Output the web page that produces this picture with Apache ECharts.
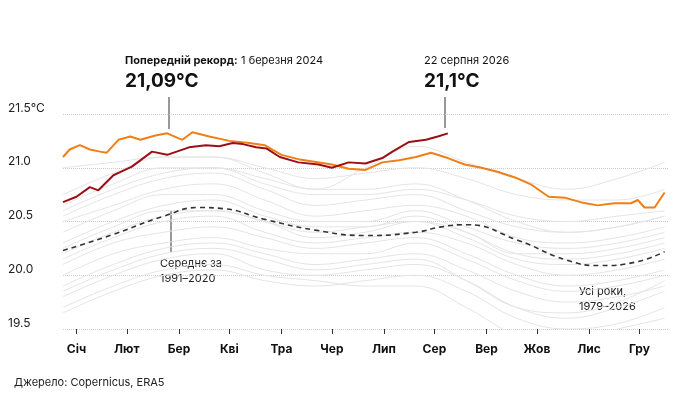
<!DOCTYPE html>
<html><head><meta charset="utf-8">
<script src="https://cdn.jsdelivr.net/npm/echarts@6/dist/echarts.min.js"></script>
<style>html,body{margin:0;padding:0;background:#fff}#c{width:680px;height:411px}</style>
</head><body><div id="c"></div>
<script>
const months = ['Січ','Лют','Бер','Кві','Тра','Чер','Лип','Сер','Вер','Жов','Лис','Гру'];
const monthTickDays = [8,38,69,99,130,160,191,221,252,282,313,343];
const yTicks = [19.5,20.0,20.5,21.0,21.5];
const greyDays = [0,30,60,90,120,150,180,210,240,270,300,330,358];
const greyYears = [
 [19.65,19.85,20.0,20.05,19.95,19.9,19.95,20.0,19.85,19.6,19.5,19.55,19.7],
 [19.8,20.0,20.15,20.2,20.05,20.0,20.05,20.1,19.95,19.7,19.6,19.7,19.85],
 [19.9,20.1,20.25,20.3,20.2,20.1,20.15,20.2,20.05,19.85,19.75,19.8,19.9],
 [20.0,20.2,20.3,20.35,20.25,20.2,20.2,20.3,20.15,19.95,19.85,19.9,20.0],
 [20.1,20.3,20.4,20.45,20.35,20.25,20.3,20.35,20.2,20.0,19.9,19.95,20.05],
 [20.15,20.35,20.5,20.55,20.4,20.3,20.35,20.4,20.3,20.1,20.0,20.05,20.15],
 [20.25,20.45,20.6,20.6,20.5,20.35,20.4,20.5,20.35,20.15,20.1,20.15,20.25],
 [20.3,20.5,20.65,20.7,20.55,20.45,20.45,20.55,20.4,20.2,20.15,20.2,20.3],
 [20.4,20.6,20.75,20.75,20.6,20.5,20.5,20.6,20.45,20.3,20.25,20.3,20.4],
 [20.5,20.65,20.8,20.85,20.7,20.55,20.6,20.65,20.55,20.35,20.3,20.35,20.45],
 [20.55,20.75,20.9,20.95,20.8,20.65,20.7,20.75,20.6,20.45,20.4,20.45,20.55],
 [20.65,20.85,21.0,21.0,20.85,20.75,20.75,20.8,20.7,20.55,20.5,20.55,20.6],
 [20.6,20.8,20.95,21.0,20.9,20.8,21.0,21.2,21.05,20.9,20.8,20.9,21.05],
 [21.0,21.05,21.1,21.1,21.0,20.9,20.95,21.0,20.9,20.75,20.7,20.7,20.8],
 [20.75,20.95,21.1,21.1,20.95,20.8,20.8,20.85,20.7,20.5,20.4,20.45,20.55],
 [19.7,19.9,20.05,20.1,20.0,19.95,19.9,19.9,19.7,19.45,19.4,19.5,19.6],
 [19.85,20.05,20.2,20.25,20.15,20.05,20.1,20.15,19.95,19.7,19.65,19.75,19.95],
 [20.2,20.4,20.55,20.6,20.5,20.4,20.45,20.5,20.4,20.2,20.2,20.25,20.35]
];
const meanDays = [0,30,60,81,95,120,150,180,210,225,240,270,300,320,340,358];
const meanVals = [20.23,20.38,20.55,20.63,20.62,20.52,20.42,20.37,20.40,20.45,20.47,20.33,20.14,20.09,20.12,20.22];
const y2024Days = [0,4,10,16,22,26,33,40,46,55,62,71,77,87,99,111,120,130,140,160,170,180,190,200,210,219,229,239,249,259,269,279,289,299,308,318,328,338,342,346,352,358];
const y2024Vals = [21.10,21.17,21.21,21.17,21.15,21.14,21.26,21.29,21.26,21.30,21.32,21.26,21.33,21.29,21.25,21.23,21.21,21.12,21.08,21.03,20.99,20.98,21.05,21.07,21.10,21.14,21.09,21.03,21.00,20.96,20.91,20.84,20.73,20.72,20.68,20.65,20.67,20.67,20.70,20.63,20.63,20.77];
const y2026Days = [0,8,16,21,30,34,41,53,62,75,85,93,101,107,115,121,129,140,152,160,170,180,190,196,206,216,223,229];
const y2026Vals = [20.68,20.73,20.82,20.79,20.93,20.96,21.01,21.15,21.12,21.19,21.21,21.20,21.23,21.22,21.19,21.18,21.10,21.05,21.03,21.00,21.05,21.04,21.09,21.15,21.24,21.26,21.29,21.32];

const zip = (d,v)=>d.map((x,i)=>[x,v[i]]);
const F = 'Inter, Roboto, sans-serif';
const series = [];
greyYears.forEach(v=>series.push({type:'line',data:zip(greyDays,v),smooth:0.4,symbol:'none',lineStyle:{color:'#e4e4e4',width:1},silent:true,z:1}));
series.push({type:'line',data:zip(meanDays,meanVals),smooth:0.5,symbol:'none',lineStyle:{color:'#333',width:1.6,type:[5,4]},z:3});
series.push({type:'line',data:zip(y2024Days,y2024Vals),symbol:'none',lineStyle:{color:'#f07f16',width:2},z:4});
series.push({type:'line',data:zip(y2026Days,y2026Vals),symbol:'none',lineStyle:{color:'#9b1016',width:2},z:5});

const chart = echarts.init(document.getElementById('c'));
chart.setOption({
 animation:false,
 grid:{left:63,right:12,top:114,bottom:82},
 xAxis:{type:'value',min:0,max:360,axisLine:{show:false},splitLine:{show:false},
  axisTick:{show:true,customValues:monthTickDays,length:5,lineStyle:{color:'#333'}},
  axisLabel:{customValues:monthTickDays,margin:14,color:'#111',fontWeight:'bold',fontSize:12,fontFamily:F,
   formatter:v=>months[monthTickDays.indexOf(v)]}},
 yAxis:{type:'value',min:19.5,max:21.5,interval:0.5,
  axisLine:{show:false},axisTick:{show:false},
  splitLine:{lineStyle:{color:'#ccc',type:'dotted'}},
  axisLabel:{customValues:yTicks,align:'left',margin:55,verticalAlign:'bottom',color:'#222',fontSize:12,fontFamily:F,
   formatter:v=>v===21.5?'21.5°C':v.toFixed(1)}},
 series:series,
 graphic:[
  {type:'text',left:125,top:55,style:{rich:{b:{fontWeight:'bold',fontSize:11,fontFamily:F,fill:'#111'},n:{fontSize:11,fontFamily:F,fill:'#111'}},text:'{b|Попередній рекорд:} {n|1 березня 2024}'}},
  {type:'text',left:125,top:72,style:{text:'21,09°C',fontWeight:'bold',fontSize:19,fontFamily:F,fill:'#111'}},
  {type:'line',shape:{x1:169,y1:97,x2:169,y2:129},style:{stroke:'#333',lineWidth:1}},
  {type:'text',left:424,top:55,style:{text:'22 серпня 2026',fontSize:11,fontFamily:F,fill:'#111'}},
  {type:'text',left:424,top:72,style:{text:'21,1°C',fontWeight:'bold',fontSize:19,fontFamily:F,fill:'#111'}},
  {type:'line',shape:{x1:445,y1:97,x2:445,y2:128},style:{stroke:'#333',lineWidth:1}},
  {type:'line',shape:{x1:171,y1:211,x2:171,y2:252},style:{stroke:'#333',lineWidth:1}},
  {type:'text',left:160,top:256,style:{text:'Середнє за\n1991–2020',fontSize:11,lineHeight:15,align:'center',fontFamily:F,fill:'#222',backgroundColor:'rgba(255,255,255,0)'}},
  {type:'text',left:579,top:284,style:{text:'Усі роки,\n1979–2026',fontSize:11,lineHeight:15,fontFamily:F,fill:'#222'}},
  {type:'text',left:14,top:377,style:{text:'Джерело: Copernicus, ERA5',fontSize:11,fontFamily:F,fill:'#222'}}
 ]
});
</script></body></html>
